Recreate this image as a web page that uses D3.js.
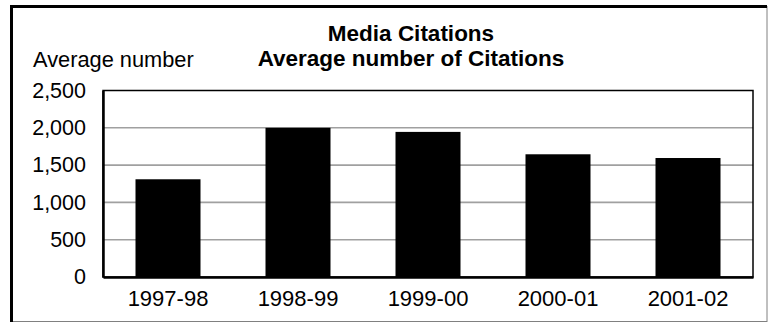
<!DOCTYPE html>
<html>
<head>
<meta charset="utf-8">
<script src="https://cdn.jsdelivr.net/npm/d3@7"></script>
<style>
  body { margin: 0; background: #fff; }
  text { font-family: Arial, "Liberation Sans", sans-serif; fill: #000; }
</style>
</head>
<body>
<div class="chart"></div>
<script>
// data
var categories = ['1997-98', '1998-99', '1999-00', '2000-01', '2001-02'];
var values = [1310, 2000, 1945, 1645, 1595];
var yTicks = [0, 500, 1000, 1500, 2000, 2500];

var margin = { top: 90.5, right: 18, bottom: 46, left: 103 };
var width = 771 - margin.left - margin.right;
var height = 323 - margin.top - margin.bottom;

var root = d3.select('.chart')
  .append('svg')
    .attr('width', 771)
    .attr('height', 323);

// outer frame: thin gray right/bottom, thick black top/left
root.append('rect')
  .attr('x', 11.5)
  .attr('y', 6.5)
  .attr('width', 767 - 11.5)
  .attr('height', 321.5 - 6.5)
  .attr('fill', 'none')
  .attr('stroke', '#808080')
  .attr('stroke-width', 1);
root.append('path')
  .attr('d', 'M11.5,322 V6.5 H767')
  .attr('fill', 'none')
  .attr('stroke', '#000')
  .attr('stroke-width', 3);

// titles
root.append('text')
  .attr('x', 411)
  .attr('y', 41)
  .attr('text-anchor', 'middle')
  .style('font-size', '22.5px')
  .style('font-weight', 'bold')
  .text('Media Citations');
root.append('text')
  .attr('x', 411)
  .attr('y', 66)
  .attr('text-anchor', 'middle')
  .style('font-size', '22.5px')
  .style('font-weight', 'bold')
  .text('Average number of Citations');
root.append('text')
  .attr('x', 33)
  .attr('y', 67)
  .style('font-size', '21.8px')
  .text('Average number');

var svg = root.append('g')
  .attr('transform', `translate(${margin.left}, ${margin.top})`);

var yScale = d3.scaleLinear()
  .domain([0, 2500])
  .range([height, 0]);

var xScale = d3.scaleBand()
  .domain(categories)
  .range([0, width])
  .paddingInner(0.5)
  .paddingOuter(0.25);

// gridlines
svg.selectAll('.grid')
  .data(yTicks.filter(d => d > 0 && d < 2500))
  .enter()
  .append('line')
  .attr('x1', 0)
  .attr('x2', width)
  .attr('y1', d => yScale(d))
  .attr('y2', d => yScale(d))
  .attr('stroke', '#a0a0a0')
  .attr('stroke-width', 1.6);

// bars
svg.selectAll('rect.bar')
  .data(values)
  .enter()
  .append('rect')
  .attr('class', 'bar')
  .attr('x', (d, i) => xScale(categories[i]))
  .attr('y', d => yScale(d))
  .attr('width', xScale.bandwidth())
  .attr('height', d => height - yScale(d))
  .attr('fill', '#000');

// plot frame
svg.append('rect')
  .attr('width', width)
  .attr('height', height)
  .attr('fill', 'none')
  .attr('stroke', '#000')
  .attr('stroke-width', 1.5);

var yAxis = d3.axisLeft(yScale)
  .tickValues(yTicks)
  .tickFormat(d3.format(','))
  .tickSize(0)
  .tickPadding(17);

svg.append('g')
  .call(yAxis)
  .call(g => g.select('.domain').attr('stroke-width', 2.5))
  .selectAll('text')
  .style('font-size', '21.5px')
  .style('font-family', 'Arial, "Liberation Sans", sans-serif');

var xAxis = d3.axisBottom(xScale)
  .tickSize(0)
  .tickPadding(13);

svg.append('g')
  .attr('transform', `translate(0, ${height})`)
  .call(xAxis)
  .call(g => g.select('.domain').attr('stroke-width', 2.5))
  .selectAll('text')
  .style('font-size', '22px')
  .style('font-family', 'Arial, "Liberation Sans", sans-serif');
</script>
</body>
</html>
